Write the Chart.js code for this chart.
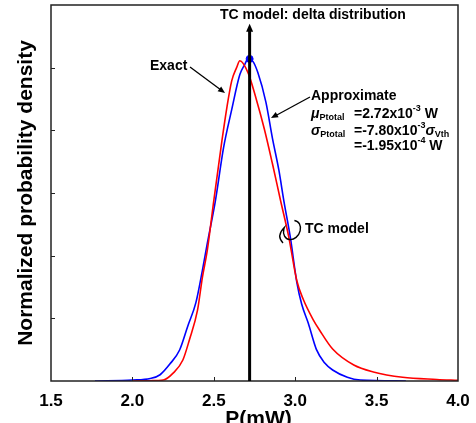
<!DOCTYPE html>
<html>
<head>
<meta charset="utf-8">
<script src="https://cdn.jsdelivr.net/npm/chart.js@4"></script>
<style>
  html, body { margin: 0; padding: 0; background: #fff; }
  #wrap { width: 476px; height: 423px; }
</style>
</head>
<body>
<div id="wrap"><canvas id="pdfChart"></canvas></div>
<script>
// Power values P (mW) and normalized densities
const exactP = [2.00, 2.11, 2.19, 2.25, 2.31, 2.35, 2.40, 2.43, 2.46, 2.50, 2.55, 2.58, 2.61, 2.64, 2.66, 2.71, 2.76, 2.81, 2.86, 2.91, 2.96, 3.01, 3.05, 3.11, 3.15, 3.23, 3.36, 3.48, 3.66, 3.87, 4.00];
const exactY = [0, 0.001, 0.003, 0.025, 0.067, 0.131, 0.226, 0.331, 0.417, 0.576, 0.767, 0.872, 0.958, 1.0, 1.022, 0.984, 0.901, 0.805, 0.694, 0.576, 0.461, 0.32, 0.26, 0.196, 0.162, 0.102, 0.051, 0.029, 0.012, 0.005, 0.002];

const approxP = [1.77, 2.00, 2.11, 2.17, 2.23, 2.29, 2.34, 2.39, 2.43, 2.46, 2.51, 2.56, 2.61, 2.66, 2.69, 2.71, 2.74, 2.77, 2.82, 2.86, 2.90, 2.93, 2.97, 3.01, 3.04, 3.08, 3.13, 3.18, 3.23, 3.32, 3.40, 3.68];
const approxY = [0, 0.003, 0.008, 0.02, 0.054, 0.099, 0.175, 0.25, 0.353, 0.439, 0.576, 0.745, 0.866, 0.978, 1.01, 1.028, 1.02, 0.985, 0.89, 0.775, 0.672, 0.576, 0.459, 0.315, 0.245, 0.185, 0.101, 0.058, 0.035, 0.012, 0.003, 0];

const xTicks = [1.5, 2.0, 2.5, 3.0, 3.5, 4.0];
const yTicks = [0, 0.2, 0.4, 0.6, 0.8, 1.0, 1.2];
const muP = 2.72;       // TC model delta position
const muPeak = 1.028;   // approximate peak marker
const arrowTop = 1.14;

const FONT = "'Liberation Sans', Arial, sans-serif";

function toPoints(xs, ys) {
  return xs.map((x, i) => ({ x: x, y: ys[i] }));
}

// Draw text with sub/superscript pieces
function drawRich(ctx, x, y, parts) {
  parts.forEach((p) => {
    const size = p.small ? 9 : 14;
    ctx.font = (p.italic ? "italic " : "") + "bold " + size + "px " + FONT;
    let dy = 0;
    if (p.sub) dy = 4;
    if (p.sup) dy = -5;
    ctx.fillText(p.t, x, y + dy);
    x += ctx.measureText(p.t).width;
    if (p.gap) x = p.gap;
  });
}

function arrowHead(ctx, x1, y1, x2, y2, len, wid) {
  const a = Math.atan2(y2 - y1, x2 - x1);
  ctx.beginPath();
  ctx.moveTo(x2, y2);
  ctx.lineTo(x2 - len * Math.cos(a) + wid * Math.sin(a), y2 - len * Math.sin(a) - wid * Math.cos(a));
  ctx.lineTo(x2 - len * Math.cos(a) - wid * Math.sin(a), y2 - len * Math.sin(a) + wid * Math.cos(a));
  ctx.closePath();
  ctx.fill();
}

const annotations = {
  id: "annotations",
  afterDatasetsDraw(chart) {
    const ctx = chart.ctx;
    const area = chart.chartArea;
    const xs = chart.scales.x;
    const ys = chart.scales.y;
    ctx.save();
    ctx.fillStyle = "#000";

    // frame
    ctx.lineWidth = 1.5;
    ctx.strokeStyle = "#222";
    ctx.strokeRect(area.left, area.top, area.right - area.left, area.bottom - area.top);

    // inward ticks
    ctx.lineWidth = 1;
    xTicks.slice(1, -1).forEach((v) => {
      const px = Math.round(xs.getPixelForValue(v)) + 0.5;
      ctx.beginPath();
      ctx.moveTo(px, area.bottom);
      ctx.lineTo(px, area.bottom - 4);
      ctx.stroke();
    });
    yTicks.slice(1, -1).forEach((v) => {
      const py = Math.round(ys.getPixelForValue(v)) + 0.5;
      ctx.beginPath();
      ctx.moveTo(area.left, py);
      ctx.lineTo(area.left + 4, py);
      ctx.stroke();
    });

    // delta arrow at mu
    ctx.strokeStyle = "#000";
    const mx = xs.getPixelForValue(muP);
    const topY = ys.getPixelForValue(arrowTop);
    ctx.lineWidth = 3;
    ctx.beginPath();
    ctx.moveTo(mx, area.bottom);
    ctx.lineTo(mx, topY + 6);
    ctx.stroke();
    arrowHead(ctx, mx, area.bottom, mx, topY, 8, 3.5);

    // texts
    ctx.textBaseline = "middle";
    ctx.textAlign = "left";
    ctx.font = "bold 14px " + FONT;
    ctx.fillText("TC model: delta distribution", 220, 15);
    ctx.fillText("Exact", 150, 66);
    ctx.fillText("TC model", 305, 229);

    // Exact arrow
    ctx.lineWidth = 1.3;
    ctx.beginPath();
    ctx.moveTo(190, 67);
    ctx.lineTo(221, 90);
    ctx.stroke();
    arrowHead(ctx, 190, 67, 225, 93, 7, 3);

    // Approximate arrow
    ctx.beginPath();
    ctx.moveTo(310, 97);
    ctx.lineTo(275, 116);
    ctx.stroke();
    arrowHead(ctx, 310, 97, 271, 118, 7, 3);

    ctx.font = "bold 14px " + FONT;
    ctx.fillText("Approximate", 311, 96);
    drawRich(ctx, 311, 114, [
      { t: "\u03BC", italic: true },
      { t: "Ptotal", small: true, sub: true, gap: 354 },
      { t: "=2.72x10" },
      { t: "-3", small: true, sup: true },
      { t: " W" },
    ]);
    drawRich(ctx, 311, 131, [
      { t: "\u03C3", italic: true },
      { t: "Ptotal", small: true, sub: true, gap: 354 },
      { t: "=-7.80x10" },
      { t: "-3", small: true, sup: true },
      { t: "\u03C3", italic: true },
      { t: "Vth", small: true, sub: true },
    ]);
    drawRich(ctx, 354, 146, [
      { t: "=-1.95x10" },
      { t: "-4", small: true, sup: true },
      { t: " W" },
    ]);

    // loop marking the TC model curves
    ctx.lineWidth = 1.4;
    ctx.beginPath();
    ctx.ellipse(292, 230, 8, 10, 0.5, -Math.PI * 0.6, Math.PI * 0.95);
    ctx.quadraticCurveTo(276, 236, 283, 243);
    ctx.stroke();

    // axis titles
    ctx.font = "bold 21px " + FONT;
    ctx.textAlign = "center";
    ctx.textBaseline = "alphabetic";
    ctx.fillText("P(mW)", (area.left + area.right) / 2 + 4, 425);
    ctx.save();
    ctx.translate(32, 193);
    ctx.rotate(-Math.PI / 2);
    ctx.fillText("Normalized probability density", 0, 0);
    ctx.restore();

    ctx.restore();
  },
};

function createPdfChart() {
  const ctx = document.getElementById("pdfChart");
  new Chart(ctx, {
    type: "scatter",
    data: {
      datasets: [
        {
          label: "Exact",
          data: toPoints(exactP, exactY),
          showLine: true,
          borderColor: "#ff0000",
          borderWidth: 1.6,
          pointRadius: 0,
          cubicInterpolationMode: "monotone",
        },
        {
          label: "Approximate",
          data: toPoints(approxP, approxY),
          showLine: true,
          borderColor: "#0000ff",
          borderWidth: 1.6,
          pointRadius: 0,
          cubicInterpolationMode: "monotone",
        },
        {
          label: "Peak",
          data: [{ x: muP, y: muPeak }],
          backgroundColor: "#0000ff",
          borderColor: "#0000ff",
          pointRadius: 3.5,
        },
      ],
    },
    options: {
      responsive: true,
      maintainAspectRatio: false,
      animation: false,
      layout: { padding: { top: 4, right: 18, left: 0, bottom: 0 } },
      plugins: {
        legend: { display: false },
        tooltip: { enabled: false },
      },
      scales: {
        x: {
          type: "linear",
          min: 1.5,
          max: 4.0,
          afterBuildTicks: (scale) => {
            scale.ticks = xTicks.map((v) => ({ value: v }));
          },
          afterFit: (scale) => {
            scale.height = 42;
            scale.paddingLeft = 0;
            scale.paddingRight = 0;
          },
          grid: { display: false, drawTicks: false },
          border: { display: false },
          ticks: {
            padding: 10,
            color: "#000",
            maxRotation: 0,
            autoSkip: false,
            font: { family: FONT, size: 17, weight: "bold" },
            callback: (v) => Number(v).toFixed(1),
          },
        },
        y: {
          type: "linear",
          min: 0,
          max: 1.2,
          afterFit: (scale) => {
            scale.width = 51;
            scale.paddingTop = 0;
            scale.paddingBottom = 0;
          },
          grid: { display: false, drawTicks: false },
          border: { display: false },
          ticks: { display: false },
        },
      },
    },
    plugins: [annotations],
  });
}

document.addEventListener("DOMContentLoaded", createPdfChart);
</script>
</body>
</html>
